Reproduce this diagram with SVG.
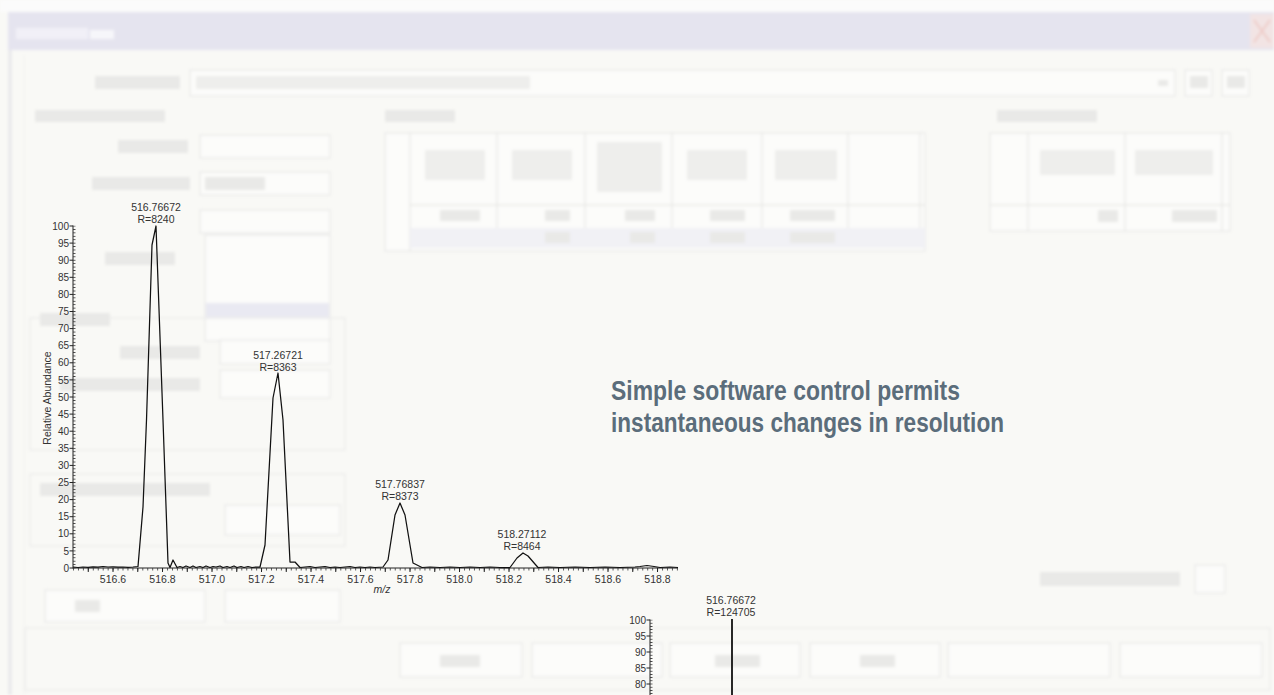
<svg xmlns="http://www.w3.org/2000/svg" width="1274" height="695" viewBox="0 0 1274 695">
<style>
.bgbox{fill:#fcfcfa;stroke:#eaeae8;stroke-width:1.4}
.blob{fill:#e9e9e7}
.lblob{fill:#eeeeec}
.grp{fill:none;stroke:#ededeb;stroke-width:1.5}
.ax{stroke:#222;stroke-width:1;fill:none}
.curve{stroke:#111;stroke-width:1.25;fill:none;stroke-linejoin:round}
.lab{font-family:"Liberation Sans",Arial,sans-serif;font-size:10.5px;fill:#333}
.ylab{font-family:"Liberation Sans",Arial,sans-serif;font-size:10px;fill:#333;text-anchor:end}
.xlab{font-family:"Liberation Sans",Arial,sans-serif;font-size:10.5px;fill:#333;text-anchor:middle}
.head{font-family:"Liberation Sans",Arial,sans-serif;font-size:27px;font-weight:bold;fill:#5b6d7b}
</style>
<defs>
<filter id="soft" x="-2%" y="-2%" width="104%" height="104%"><feGaussianBlur stdDeviation="1.6"/></filter>
<pattern id="yt1" x="0" y="225.6" width="10" height="3.42" patternUnits="userSpaceOnUse"><rect width="10" height="0.8" fill="#333"/></pattern>
<pattern id="xt1" x="112.6" y="0" width="4.95" height="10" patternUnits="userSpaceOnUse"><rect width="0.8" height="10" fill="#333"/></pattern>
<pattern id="yt2" x="0" y="619.6" width="10" height="3.2" patternUnits="userSpaceOnUse"><rect width="10" height="0.8" fill="#333"/></pattern>
</defs>

<rect width="1274" height="695" fill="#f9f9f6"/>
<g id="background" filter="url(#soft)">
<rect width="1274" height="12" fill="#fbfbfb"/>
<rect x="8" y="12" width="1266" height="38" fill="#e5e4ef"/>
<rect x="16" y="28" width="72" height="11" fill="#f1f0f7"/>
<rect x="90" y="30" width="24" height="9" fill="#f6f6fa"/>
<rect x="1250" y="14" width="24" height="34" fill="#f2e4e4"/>
<path d="M1254 20 L1270 42 M1270 20 L1254 42" stroke="#eecbc6" stroke-width="2"/>
<line x1="10" y1="50" x2="10" y2="695" stroke="#e6e6ea" stroke-width="3"/>
<line x1="24" y1="55" x2="24" y2="695" stroke="#f0f0ee" stroke-width="1"/>
<rect class="blob" x="95" y="76" width="85" height="13"/>
<rect class="bgbox" x="190" y="70" width="985" height="26"/>
<rect class="lblob" x="196" y="76" width="334" height="13"/>
<rect class="blob" x="1158" y="80" width="10" height="6"/>
<rect class="bgbox" x="1185" y="70" width="27" height="26"/>
<rect class="bgbox" x="1222" y="70" width="27" height="26"/>
<rect class="blob" x="1190" y="76" width="18" height="12"/>
<rect class="blob" x="1227" y="76" width="18" height="12"/>
<rect class="blob" x="35" y="110" width="130" height="12"/>
<rect class="blob" x="385" y="110" width="70" height="12"/>
<rect class="blob" x="997" y="110" width="100" height="12"/>
<rect class="bgbox" x="385" y="133" width="540" height="118"/>
<path d="M410 133 V251 M497 133 V230 M585 133 V230 M672 133 V230 M762 133 V230 M848 133 V230 M920 133 V230 M410 205 H925" stroke="#e9e9e6" stroke-width="1.4"/>
<rect x="410" y="228" width="515" height="20" fill="#f1f1f5"/>
<rect class="lblob" x="425" y="150" width="60" height="30"/>
<rect class="lblob" x="512" y="150" width="60" height="30"/>
<rect class="lblob" x="597" y="142" width="65" height="50"/>
<rect class="lblob" x="687" y="150" width="60" height="30"/>
<rect class="lblob" x="775" y="150" width="62" height="30"/>
<rect class="blob" x="440" y="210" width="40" height="11"/>
<rect class="blob" x="545" y="210" width="25" height="11"/>
<rect class="blob" x="625" y="210" width="30" height="11"/>
<rect class="blob" x="710" y="210" width="35" height="11"/>
<rect class="blob" x="790" y="210" width="45" height="11"/>
<rect class="blob" x="545" y="232" width="25" height="11"/>
<rect class="blob" x="630" y="232" width="25" height="11"/>
<rect class="blob" x="710" y="232" width="35" height="11"/>
<rect class="blob" x="790" y="232" width="45" height="11"/>
<rect class="bgbox" x="990" y="133" width="240" height="98"/>
<path d="M1028 133 V231 M1125 133 V231 M1222 133 V231 M990 205 H1230" stroke="#e9e9e6" stroke-width="1.4"/>
<rect class="lblob" x="1040" y="150" width="75" height="25"/>
<rect class="lblob" x="1135" y="150" width="78" height="25"/>
<rect class="blob" x="1098" y="210" width="20" height="12"/>
<rect class="blob" x="1172" y="210" width="45" height="12"/>
<rect class="blob" x="118" y="140" width="70" height="13"/>
<rect class="bgbox" x="200" y="135" width="130" height="23"/>
<rect class="blob" x="92" y="177" width="98" height="13"/>
<rect class="bgbox" x="200" y="172" width="130" height="23"/>
<rect class="blob" x="205" y="177" width="60" height="13"/>
<rect class="bgbox" x="200" y="210" width="130" height="23"/>
<rect class="bgbox" x="205" y="235" width="125" height="106"/>
<rect x="206" y="303" width="123" height="16" fill="#e9e9f2"/>
<rect class="blob" x="105" y="252" width="70" height="13"/>
<rect class="grp" x="30" y="318" width="315" height="132"/>
<rect class="blob" x="40" y="313" width="70" height="13"/>
<rect class="blob" x="120" y="346" width="80" height="13"/>
<rect class="blob" x="60" y="378" width="140" height="13"/>
<rect class="bgbox" x="220" y="340" width="110" height="24"/>
<rect class="bgbox" x="220" y="370" width="110" height="28"/>
<rect class="grp" x="30" y="474" width="315" height="72"/>
<rect class="blob" x="40" y="483" width="170" height="13"/>
<rect class="bgbox" x="225" y="505" width="115" height="30"/>
<rect class="bgbox" x="45" y="590" width="160" height="32"/>
<rect class="bgbox" x="225" y="590" width="115" height="32"/>
<rect class="blob" x="75" y="600" width="25" height="12"/>
<rect class="blob" x="1040" y="572" width="140" height="14"/>
<rect class="bgbox" x="1195" y="565" width="30" height="28"/>
<rect class="grp" x="25" y="628" width="1245" height="62"/>
<rect class="bgbox" x="400" y="643" width="122" height="34"/>
<rect class="bgbox" x="532" y="643" width="130" height="34"/>
<rect class="bgbox" x="670" y="643" width="130" height="34"/>
<rect class="bgbox" x="810" y="643" width="130" height="34"/>
<rect class="bgbox" x="948" y="643" width="162" height="34"/>
<rect class="bgbox" x="1120" y="643" width="142" height="34"/>
<rect class="blob" x="440" y="655" width="40" height="12"/>
<rect class="blob" x="715" y="655" width="45" height="12"/>
<rect class="blob" x="860" y="655" width="35" height="12"/>
</g>

<g id="plot-main">
<line class="ax" x1="73" y1="225.5" x2="73" y2="568.5"/>
<line class="ax" x1="73" y1="568" x2="678" y2="568"/>
<rect x="73" y="225.6" width="2.5" height="343" fill="url(#yt1)"/>
<rect x="73" y="568" width="605" height="2.5" fill="url(#xt1)"/>
<path class="ax" d="M69.5 226H73 M69.5 243.1H73 M69.5 260.2H73 M69.5 277.3H73 M69.5 294.4H73 M69.5 311.5H73 M69.5 328.6H73 M69.5 345.7H73 M69.5 362.8H73 M69.5 379.9H73 M69.5 397H73 M69.5 414.1H73 M69.5 431.2H73 M69.5 448.3H73 M69.5 465.4H73 M69.5 482.5H73 M69.5 499.6H73 M69.5 516.7H73 M69.5 533.8H73 M69.5 550.9H73 M69.5 568H73"/>
<path class="ax" d="M88.25 568V572 M113 568V572 M137.75 568V572 M162.5 568V572 M187.25 568V572 M212 568V572 M236.75 568V572 M261.5 568V572 M286.25 568V572 M311 568V572 M335.75 568V572 M360.5 568V572 M385.25 568V572 M410 568V572 M434.75 568V572 M459.5 568V572 M484.25 568V572 M509 568V572 M533.75 568V572 M558.5 568V572 M583.25 568V572 M608 568V572 M632.75 568V572 M657.5 568V572"/>
<text class="ylab" x="69" y="229.6">100</text>
<text class="ylab" x="69" y="246.7">95</text>
<text class="ylab" x="69" y="263.8">90</text>
<text class="ylab" x="69" y="280.9">85</text>
<text class="ylab" x="69" y="298">80</text>
<text class="ylab" x="69" y="315.1">75</text>
<text class="ylab" x="69" y="332.2">70</text>
<text class="ylab" x="69" y="349.3">65</text>
<text class="ylab" x="69" y="366.4">60</text>
<text class="ylab" x="69" y="383.5">55</text>
<text class="ylab" x="69" y="400.6">50</text>
<text class="ylab" x="69" y="417.7">45</text>
<text class="ylab" x="69" y="434.8">40</text>
<text class="ylab" x="69" y="451.9">35</text>
<text class="ylab" x="69" y="469">30</text>
<text class="ylab" x="69" y="486.1">25</text>
<text class="ylab" x="69" y="503.2">20</text>
<text class="ylab" x="69" y="520.3">15</text>
<text class="ylab" x="69" y="537.4">10</text>
<text class="ylab" x="69" y="554.5">5</text>
<text class="ylab" x="69" y="571.6">0</text>
<text class="xlab" x="113" y="583">516.6</text>
<text class="xlab" x="162.5" y="583">516.8</text>
<text class="xlab" x="212" y="583">517.0</text>
<text class="xlab" x="261.5" y="583">517.2</text>
<text class="xlab" x="311" y="583">517.4</text>
<text class="xlab" x="360.5" y="583">517.6</text>
<text class="xlab" x="410" y="583">517.8</text>
<text class="xlab" x="459.5" y="583">518.0</text>
<text class="xlab" x="509" y="583">518.2</text>
<text class="xlab" x="558.5" y="583">518.4</text>
<text class="xlab" x="608" y="583">518.6</text>
<text class="xlab" x="657.5" y="583">518.8</text>
<text class="xlab" x="382" y="593" font-style="italic">m/z</text>
<text class="lab" transform="translate(51,398) rotate(-90)" text-anchor="middle" font-size="10px">Relative Abundance</text>
<polyline class="curve" points="73,567 78,567.5 83,567 88,567.3 93,566.8 98,567.2 103,566.5 108,567 113,566.8 118,567.2 123,567 128,567.3 133,567 138,566.5 143,507 146.5,420 152,245 156,226 163,420 168,563 170,567.5 173,560 177,567.5 180,566.5 183,567.5 186,566 190,567.5 193,566 196,567.5 200,566.5 203,567.5 206,566 210,567.5 213,566.5 216,567 220,566 223,567.5 227,566.5 230,567.5 234,566 237,567.5 241,566.5 244,567.5 248,566.5 252,567.5 256,567 260,567 265,545 273,398 278,373 283,420 290,562 295,562 300,567.5 305,567 310,566.5 315,567.5 320,567 325,566.5 330,567.5 335,567 340,567.5 345,567 350,566.5 355,567.5 360,567 365,567.5 370,567 375,567.5 383,567 388,560 395,515 400,503 405,515 413,563 422,567.5 430,567 440,567.5 450,567 460,567.5 470,567 480,567.5 490,567 500,567.5 510,567.5 517,558 523,553 528,556 538,567.5 548,567 560,567.5 575,567 590,567.5 605,567 620,567.5 635,567 640,566.5 647,565.5 654,566.5 660,567.5 670,567 678,567.5"/>
<text class="xlab" x="156" y="211">516.76672</text>
<text class="xlab" x="156" y="223">R=8240</text>
<text class="xlab" x="278" y="359">517.26721</text>
<text class="xlab" x="278" y="371">R=8363</text>
<text class="xlab" x="400" y="488">517.76837</text>
<text class="xlab" x="400" y="500">R=8373</text>
<text class="xlab" x="522" y="538">518.27112</text>
<text class="xlab" x="522" y="550">R=8464</text>
</g>

<g id="caption">
<text class="head" x="611" y="400" textLength="349" lengthAdjust="spacingAndGlyphs">Simple software control permits</text>
<text class="head" x="611" y="432" textLength="393" lengthAdjust="spacingAndGlyphs">instantaneous changes in resolution</text>
</g>

<g id="plot-high-res">
<line class="ax" x1="650" y1="619.5" x2="650" y2="695"/>
<rect x="650" y="619.6" width="2.5" height="76" fill="url(#yt2)"/>
<path class="ax" d="M646.5 620H650 M646.5 636H650 M646.5 652H650 M646.5 668H650 M646.5 684H650"/>
<text class="ylab" x="646" y="623.6">100</text>
<text class="ylab" x="646" y="639.6">95</text>
<text class="ylab" x="646" y="655.6">90</text>
<text class="ylab" x="646" y="671.6">85</text>
<text class="ylab" x="646" y="687.6">80</text>
<line x1="732" y1="619" x2="732" y2="695" stroke="#111" stroke-width="1.8"/>
<text class="xlab" x="731" y="604">516.76672</text>
<text class="xlab" x="731" y="616">R=124705</text>
</g>
</svg>
